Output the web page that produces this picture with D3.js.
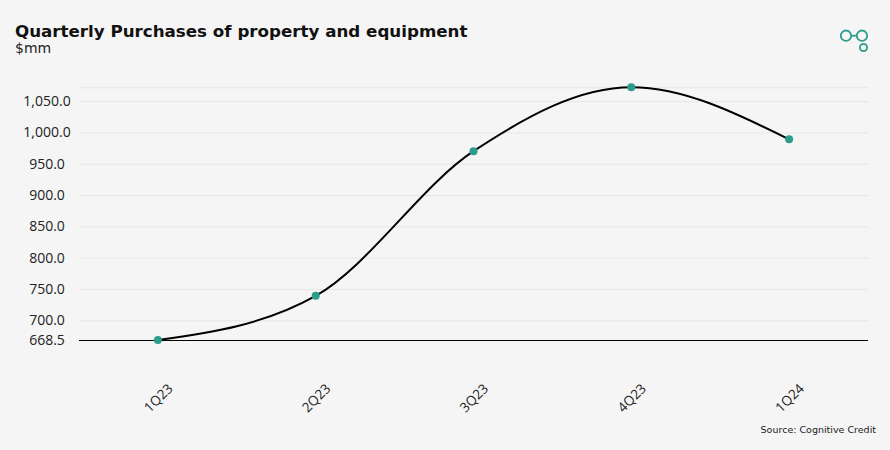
<!DOCTYPE html>
<html>
<head>
<meta charset="utf-8">
<script src="https://cdn.jsdelivr.net/npm/d3@7"></script>
<style>
  body { margin: 0; background: #f5f5f5; }
  svg { display: block; }
</style>
</head>
<body>
<div class="chart"></div>
<script>
// chart data
var quarters = ["1Q23", "2Q23", "3Q23", "4Q23", "1Q24"];
var purchases = [668.5, 739.0, 970.0, 1072.0, 989.0];

// y ticks: min value, round steps, and the max (grid only)
var yTicks = [668.5, 700, 750, 800, 850, 900, 950, 1000, 1050, 1072.0];
var yTickLabels = ["668.5", "700.0", "750.0", "800.0", "850.0", "900.0", "950.0", "1,000.0", "1,050.0", ""];

var titleText = "Quarterly Purchases of property and equipment";
var unitText = "$mm";
var sourceText = "Source: Cognitive Credit";

var drawChart = function () {
	var width = 890,
		height = 450,
		plot = {left: 79, right: 868, top: 87.3, bottom: 340},
		teal = "#2a9d8c";

	var svg = d3.select(".chart").append("svg")
		.attr("width", width)
		.attr("height", height);

	svg.append("rect")
		.attr("width", width)
		.attr("height", height)
		.attr("fill", "#f5f5f5");

	//title + unit
	svg.append("text")
		.attr("x", 15)
		.attr("y", 37)
		.attr("font-family", "'DejaVu Sans', sans-serif")
		.attr("font-weight", "bold")
		.attr("font-size", 16.7)
		.attr("fill", "#111")
		.text(titleText);

	svg.append("text")
		.attr("x", 15)
		.attr("y", 53)
		.attr("font-family", "'DejaVu Sans', sans-serif")
		.attr("font-size", 14)
		.attr("fill", "#222")
		.text(unitText);

	//logo, top right
	var logo = svg.append("g")
		.attr("fill", "none")
		.attr("stroke", teal)
		.attr("stroke-width", 1.8);
	logo.append("circle").attr("cx", 846).attr("cy", 35.7).attr("r", 5.2);
	logo.append("circle").attr("cx", 862).attr("cy", 35.7).attr("r", 5.2);
	logo.append("circle").attr("cx", 863.5).attr("cy", 47.5).attr("r", 3.6);
	logo.append("line").attr("x1", 851).attr("x2", 857).attr("y1", 35.7).attr("y2", 35.7);

	//scales
	var xScale = d3.scalePoint()
		.domain(quarters)
		.range([plot.left, plot.right])
		.padding(0.5);

	var yScale = d3.scaleLinear()
		.domain([d3.min(purchases), d3.max(purchases)])
		.range([plot.bottom, plot.top]);

	//grid lines
	var yAxis = d3.axisLeft(yScale)
		.tickValues(yTicks)
		.tickSize(-(plot.right - plot.left))
		.tickFormat(function (d, i) { return yTickLabels[i]; });

	var gy = svg.append("g")
		.attr("transform", "translate(" + plot.left + ",0)")
		.call(yAxis);
	gy.select(".domain").remove();
	gy.selectAll(".tick line")
		.attr("stroke", "#e6e6e6")
		.attr("stroke-width", 1);
	gy.selectAll(".tick text")
		.attr("x", 47 - plot.left)
		.attr("text-anchor", "middle")
		.attr("font-family", "'Open Sans', sans-serif")
		.attr("font-size", 14)
		.attr("fill", "#222");

	//x axis
	var xAxis = d3.axisBottom(xScale).tickSize(0);
	var gx = svg.append("g")
		.attr("transform", "translate(0," + plot.bottom + ")")
		.call(xAxis);
	gx.select(".domain")
		.attr("d", "M" + plot.left + ",0.5H" + plot.right)
		.attr("stroke", "#000")
		.attr("stroke-width", 1);
	gx.selectAll(".tick text")
		.attr("y", 0)
		.attr("dy", "0.35em")
		.attr("text-anchor", "middle")
		.attr("transform", "translate(0,58) rotate(-45)")
		.attr("font-family", "'Open Sans', sans-serif")
		.attr("font-size", 13.5)
		.attr("fill", "#222");

	//line
	var line = d3.line()
		.x(function (d, i) { return xScale(quarters[i]); })
		.y(function (d) { return yScale(d); })
		.curve(d3.curveMonotoneX);

	svg.append("path")
		.datum(purchases)
		.attr("d", line)
		.attr("fill", "none")
		.attr("stroke", "#000")
		.attr("stroke-width", 2);

	//points
	svg.selectAll(".dot")
		.data(purchases)
		.enter().append("circle")
		.attr("class", "dot")
		.attr("cx", function (d, i) { return xScale(quarters[i]); })
		.attr("cy", function (d) { return yScale(d); })
		.attr("r", 4)
		.attr("fill", teal);

	//source
	svg.append("text")
		.attr("x", 876)
		.attr("y", 433)
		.attr("text-anchor", "end")
		.attr("font-family", "'DejaVu Sans', sans-serif")
		.attr("font-size", 9.5)
		.attr("fill", "#222")
		.text(sourceText);
};

drawChart();
</script>
</body>
</html>
